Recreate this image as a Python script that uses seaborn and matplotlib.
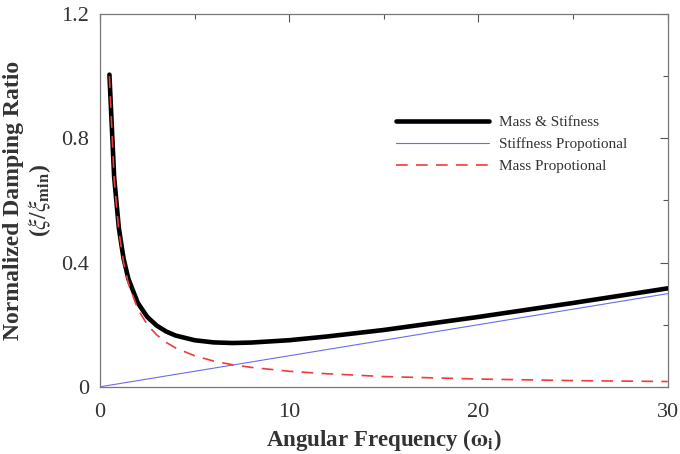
import numpy as np
import pandas as pd
import matplotlib
matplotlib.use("Agg")
import matplotlib.pyplot as plt
import seaborn as sns
from matplotlib.ticker import MultipleLocator

# Data
omega = [0.5, 0.75, 1.0, 1.25, 1.5, 2.0, 2.5, 3.0, 3.5, 4.0, 5.0, 6.0, 7.0, 8.0, 10.0, 12.0, 15.0, 20.0, 25.0, 30.0]
mass_prop = [1.0, 0.667, 0.5, 0.4, 0.333, 0.25, 0.2, 0.167, 0.143, 0.125, 0.1, 0.083, 0.071, 0.0625, 0.05, 0.042, 0.033, 0.025, 0.02, 0.017]
mass_stiff = [1.005, 0.675, 0.51, 0.412, 0.348, 0.27, 0.225, 0.197, 0.178, 0.165, 0.15, 0.143, 0.141, 0.1425, 0.15, 0.162, 0.183, 0.225, 0.27, 0.317]
omega_stiff = [0.0, 30.0]
stiff_prop = [0.0, 0.30]

labels = ["Mass & Stifness", "Stiffness Propotional", "Mass Propotional"]
x_ticks = [0, 10, 20, 30]
y_ticks = [0, 0.4, 0.8, 1.2]

sns.set_theme(style="white")
plt.rcParams["font.family"] = ["Liberation Serif", "DejaVu Serif"]
plt.rcParams["mathtext.fontset"] = "stix"

fig = plt.figure(figsize=(6.8, 4.54), dpi=100)
ax = fig.add_axes([0.147, 0.148, 0.835, 0.821])

df1 = pd.DataFrame({"w": omega, "v": mass_stiff})
df2 = pd.DataFrame({"w": omega_stiff, "v": stiff_prop})
df3 = pd.DataFrame({"w": omega, "v": mass_prop})

sns.lineplot(data=df1, x="w", y="v", ax=ax, color="black", linewidth=3.3, label=labels[0], zorder=3)
sns.lineplot(data=df2, x="w", y="v", ax=ax, color="#6b6bef", linewidth=0.8, label=labels[1], zorder=2)
sns.lineplot(data=df3, x="w", y="v", ax=ax, color="#ef3b3b", linewidth=1.2, label=labels[2], zorder=4)
ax.lines[2].set_dashes([7, 5])

ax.set_xlim(0, 30)
ax.set_ylim(0, 1.2)
ax.set_xticks(x_ticks)
ax.set_xticklabels([str(t) for t in x_ticks])
ax.set_yticks(y_ticks)
ax.set_yticklabels(["0", "0.4", "0.8", "1.2"])
ax.xaxis.set_minor_locator(MultipleLocator(5))
ax.yaxis.set_minor_locator(MultipleLocator(0.2))
ax.tick_params(which="both", direction="in", top=True, right=True, colors="#555555",
               labelcolor="#333333", labelsize=16)
ax.tick_params(which="major", length=6, width=0.8)
ax.tick_params(which="minor", length=3.5, width=0.8)
ax.tick_params(axis="x", which="major", pad=12)
ax.tick_params(axis="y", which="major", pad=8)
for s in ax.spines.values():
    s.set_color("#777777")
    s.set_linewidth(0.9)

ax.set_xlabel("Angular Frequency ($\\mathbf{\\omega_i}$)", fontsize=16.5, fontweight="bold",
              color="#333333", labelpad=3)
ax.set_ylabel("Normalized Damping Ratio\n($\\xi/\\xi_{\\mathbf{min}}$)", fontsize=17,
              fontweight="bold", color="#333333", labelpad=6, linespacing=1.1)

leg = ax.legend(loc="upper left", bbox_to_anchor=(0.497, 0.765), frameon=False, fontsize=11,
                handlelength=6.1, handletextpad=0.65, labelspacing=0.55)
for t in leg.get_texts():
    t.set_color("#333333")

fig.savefig("out.png", dpi=100)
